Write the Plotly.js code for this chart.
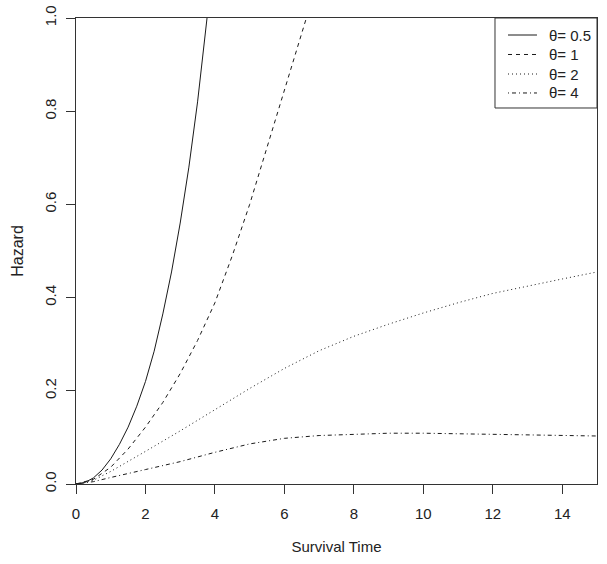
<!DOCTYPE html>
<html>
<head>
<meta charset="utf-8">
<script src="https://cdn.plot.ly/plotly-3.0.1.min.js"></script>
<style>
  html, body { margin: 0; padding: 0; background: #fff; }
  #plot { width: 607px; height: 564px; }
</style>
</head>
<body>
<div id="plot"></div>
<script>
// hazard curves, one pair of arrays per theta
const thetaLabels = ["θ= 0.5", "θ= 1", "θ= 2", "θ= 4"];

const timeA = [0, 0.25, 0.5, 0.75, 1.0, 1.25, 1.5, 1.75, 2.0, 2.25, 2.5, 2.75, 3.0, 3.25, 3.5, 3.75, 4.0];
const hazA  = [0, 0.003, 0.013, 0.03, 0.054, 0.085, 0.122, 0.167, 0.22, 0.285, 0.365, 0.455, 0.56, 0.68, 0.82, 0.98, 1.15];

const timeB = [0, 0.5, 1.0, 1.5, 2.0, 2.5, 3.0, 3.5, 4.0, 4.5, 5.0, 5.5, 6.0, 6.5, 7.0];
const hazB  = [0, 0.01, 0.036, 0.075, 0.122, 0.175, 0.237, 0.308, 0.389, 0.49, 0.60, 0.72, 0.84, 0.96, 1.09];

const timeC = [0, 0.5, 1, 1.5, 2, 3, 4, 5, 6, 7, 8, 9, 10, 11, 12, 13, 14, 15];
const hazC  = [0, 0.008, 0.027, 0.048, 0.07, 0.114, 0.16, 0.205, 0.248, 0.286, 0.317, 0.343, 0.367, 0.389, 0.409, 0.425, 0.44, 0.455];

const timeD = [0, 0.5, 1, 1.5, 2, 3, 4, 5, 6, 7, 8, 9, 10, 11, 12, 13, 14, 15];
const hazD  = [0, 0.005, 0.014, 0.022, 0.031, 0.048, 0.068, 0.086, 0.098, 0.104, 0.107, 0.109, 0.109, 0.108, 0.107, 0.105, 0.104, 0.103];

const dashes = ["solid", "4px,4px", "1px,3px", "1px,3px,4px,3px"];

const xTicks = [0, 2, 4, 6, 8, 10, 12, 14];
const yTicks = [0, 0.2, 0.4, 0.6, 0.8, 1.0];

const ink = "#1a1a1a";
const font = "Liberation Sans, Arial, sans-serif";

function curve(x, y, dash) {
    return {
        x: x, y: y,
        type: "scatter", mode: "lines",
        line: { color: ink, width: 1, dash: dash },
        showlegend: false
    };
}

const traces = [
    curve(timeA, hazA, dashes[0]),
    curve(timeB, hazB, dashes[1]),
    curve(timeC, hazC, dashes[2]),
    curve(timeD, hazD, dashes[3])
];

// legend box in the top right corner, like R's legend("topright")
const shapes = [{
    type: "rect", xref: "paper", yref: "paper",
    x0: 0.8042, x1: 1.0, y0: 0.8069, y1: 1.0,
    line: { color: "#333", width: 1 }, fillcolor: "#fff"
}];
const annotations = [];
const rowY = [0.9635, 0.9217, 0.8798, 0.8391];
thetaLabels.forEach((lab, i) => {
    shapes.push({
        type: "line", xref: "paper", yref: "paper",
        x0: 0.8292, x1: 0.8848, y0: rowY[i], y1: rowY[i],
        line: { color: ink, width: 1, dash: dashes[i] }
    });
    annotations.push({
        xref: "paper", yref: "paper", x: 0.904, y: rowY[i],
        xanchor: "left", yanchor: "middle", showarrow: false,
        text: lab, font: { family: font, size: 15, color: "#222" }
    });
});

const layout = {
    width: 607,
    height: 564,
    margin: { l: 76, r: 10, t: 18, b: 80 },
    paper_bgcolor: "#fff",
    plot_bgcolor: "#fff",
    font: { family: font, size: 15, color: "#222" },
    showlegend: false,
    shapes: shapes,
    annotations: annotations,
    xaxis: {
        range: [0, 15],
        tickvals: xTicks,
        ticks: "outside", ticklen: 9, tickwidth: 1, tickcolor: "#333",
        ticklabelstandoff: 7,
        tickfont: { size: 15 },
        showline: true, mirror: true, linecolor: "#333", linewidth: 1,
        showgrid: false, zeroline: false,
        title: { text: "Survival Time", standoff: 20, font: { size: 15 } }
    },
    yaxis: {
        range: [0, 1],
        tickvals: yTicks,
        tickformat: ".1f",
        tickangle: -90,
        ticks: "outside", ticklen: 9, tickwidth: 1, tickcolor: "#333",
        ticklabelstandoff: 4,
        tickfont: { size: 15 },
        showline: true, mirror: true, linecolor: "#333", linewidth: 1,
        showgrid: false, zeroline: false,
        title: { text: "Hazard", standoff: 14, font: { size: 16 } }
    }
};

Plotly.newPlot("plot", traces, layout, { displayModeBar: false, staticPlot: true });
</script>
</body>
</html>
